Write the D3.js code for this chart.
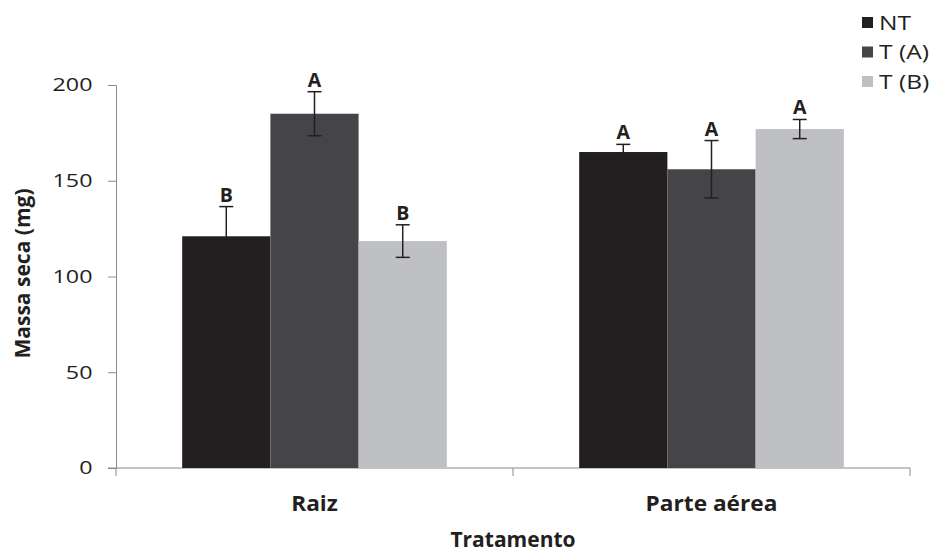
<!DOCTYPE html>
<html>
    <head>
        <meta charset="utf-8">
        <script src="https://cdn.jsdelivr.net/npm/d3@7"></script>
        <style>
            body { margin: 0; background: #fff; }
            text { font-family: "Open Sans", sans-serif; fill: #231f20; }
        </style>
    </head>
    <body>
        <svg id="fig" width="932" height="553"></svg>
        <script>
            // data
            var categories = ["Raiz", "Parte aérea"];
            var series = ["NT", "T (A)", "T (B)"];
            var colors = ["#231f20", "#454547", "#bfc0c4"];
            var means = [[121, 185, 118.5],
                         [165, 156, 177]];
            var errors = [[15.5, 11.5, 8.5],
                          [4, 15, 5]];
            var letters = [["B", "A", "B"],
                           ["A", "A", "A"]];
            var yTicks = [0, 50, 100, 150, 200];

            var svg = d3.select("#fig");
            const margin = { left: 116, top: 85, right: 22, bottom: 85 };
            const width = +svg.attr("width");
            const height = +svg.attr("height");
            const stretch = 1.26;   // the regular text in the figure is drawn wide
            const labStretch = 1.08;

            var x0 = d3.scaleBand().domain(categories)
                       .range([margin.left, width - margin.right]);
            var x1 = d3.scaleBand().domain(series)
                       .range([x0.bandwidth() / 6, x0.bandwidth() * 5 / 6]);
            var y = d3.scaleLinear().domain([0, 200])
                      .range([height - margin.bottom, margin.top]);

            // y axis
            var yg = svg.append("g")
                        .attr("transform", `translate(${margin.left},0)`)
                        .call(d3.axisLeft(y).tickValues(yTicks).tickSize(8).tickPadding(15));
            yg.selectAll("line, path").attr("stroke", "#8a8a8a");
            yg.selectAll("text")
              .style("font-size", "18.5px").attr("fill", "#231f20")
              .attr("x", -23.5 / stretch)
              .attr("transform", `scale(${stretch},1)`);

            // x axis: ticks on the category boundaries
            var xg = svg.append("g")
                        .attr("transform", `translate(0,${y(0)})`);
            xg.append("line")
              .attr("x1", margin.left - 8).attr("x2", width - margin.right)
              .attr("stroke", "#8a8a8a");
            var bounds = categories.map(c => x0(c)).concat([x0.range()[1]]);
            xg.selectAll(".tk").data(bounds).enter().append("line")
              .attr("x1", d => d).attr("x2", d => d)
              .attr("y1", 0).attr("y2", 8)
              .attr("stroke", "#8a8a8a");
            xg.selectAll(".lab").data(categories).enter().append("text")
              .attr("x", d => (x0(d) + x0.bandwidth() / 2) / labStretch)
              .attr("y", 43)
              .attr("transform", `scale(${labStretch},1)`)
              .attr("text-anchor", "middle")
              .style("font-size", "21px").style("font-weight", "bold")
              .text(d => d);

            // bars
            var groups = svg.selectAll(".grp").data(categories).enter().append("g")
                            .attr("transform", d => `translate(${x0(d)},0)`);
            groups.each(function(c, ci) {
                var g = d3.select(this);
                var rows = series.map((s, si) => ({ s: s, si: si, v: means[ci][si], e: errors[ci][si], l: letters[ci][si] }));
                g.selectAll("rect").data(rows).enter().append("rect")
                 .attr("x", d => x1(d.s))
                 .attr("width", x1.bandwidth())
                 .attr("y", d => y(d.v))
                 .attr("height", d => y(0) - y(d.v))
                 .attr("fill", d => colors[d.si]);
                var eb = g.selectAll(".eb").data(rows).enter().append("g")
                          .attr("transform", d => `translate(${x1(d.s) + x1.bandwidth() / 2},0)`);
                eb.append("line")
                  .attr("y1", d => y(d.v - d.e)).attr("y2", d => y(d.v + d.e))
                  .attr("stroke", "#231f20").attr("stroke-width", 1.5);
                eb.append("line")
                  .attr("x1", -7).attr("x2", 7)
                  .attr("y1", d => y(d.v + d.e)).attr("y2", d => y(d.v + d.e))
                  .attr("stroke", "#231f20").attr("stroke-width", 1.5);
                eb.append("line")
                  .attr("x1", -7).attr("x2", 7)
                  .attr("y1", d => y(d.v - d.e)).attr("y2", d => y(d.v - d.e))
                  .attr("stroke", "#231f20").attr("stroke-width", 1.5);
                eb.append("text")
                  .attr("y", d => y(d.v + d.e) - 5)
                  .attr("text-anchor", "middle")
                  .style("font-size", "19.5px").style("font-weight", "bold")
                  .text(d => d.l);
            });

            // axis titles
            svg.append("text")
               .attr("transform", `translate(30,${(y(0) + y(200)) / 2 - 3}) rotate(-90)`)
               .attr("text-anchor", "middle")
               .style("font-size", "21px").style("font-weight", "bold")
               .text("Massa seca (mg)");
            svg.append("text")
               .attr("x", (x0.range()[0] + x0.range()[1]) / 2)
               .attr("y", 547)
               .attr("text-anchor", "middle")
               .style("font-size", "21px").style("font-weight", "bold")
               .text("Tratamento");

            // legend
            var leg = svg.selectAll(".leg").data(series).enter().append("g")
                         .attr("transform", (d, i) => `translate(862,${22.5 + i * 29.5})`);
            leg.append("rect")
               .attr("y", -5.5).attr("width", 11).attr("height", 11)
               .attr("fill", (d, i) => colors[i]);
            leg.append("text")
               .attr("x", 17 / stretch).attr("dy", "0.36em")
               .attr("transform", `scale(${stretch},1)`)
               .style("font-size", "19.5px")
               .text(d => d);
        </script>
    </body>
</html>
